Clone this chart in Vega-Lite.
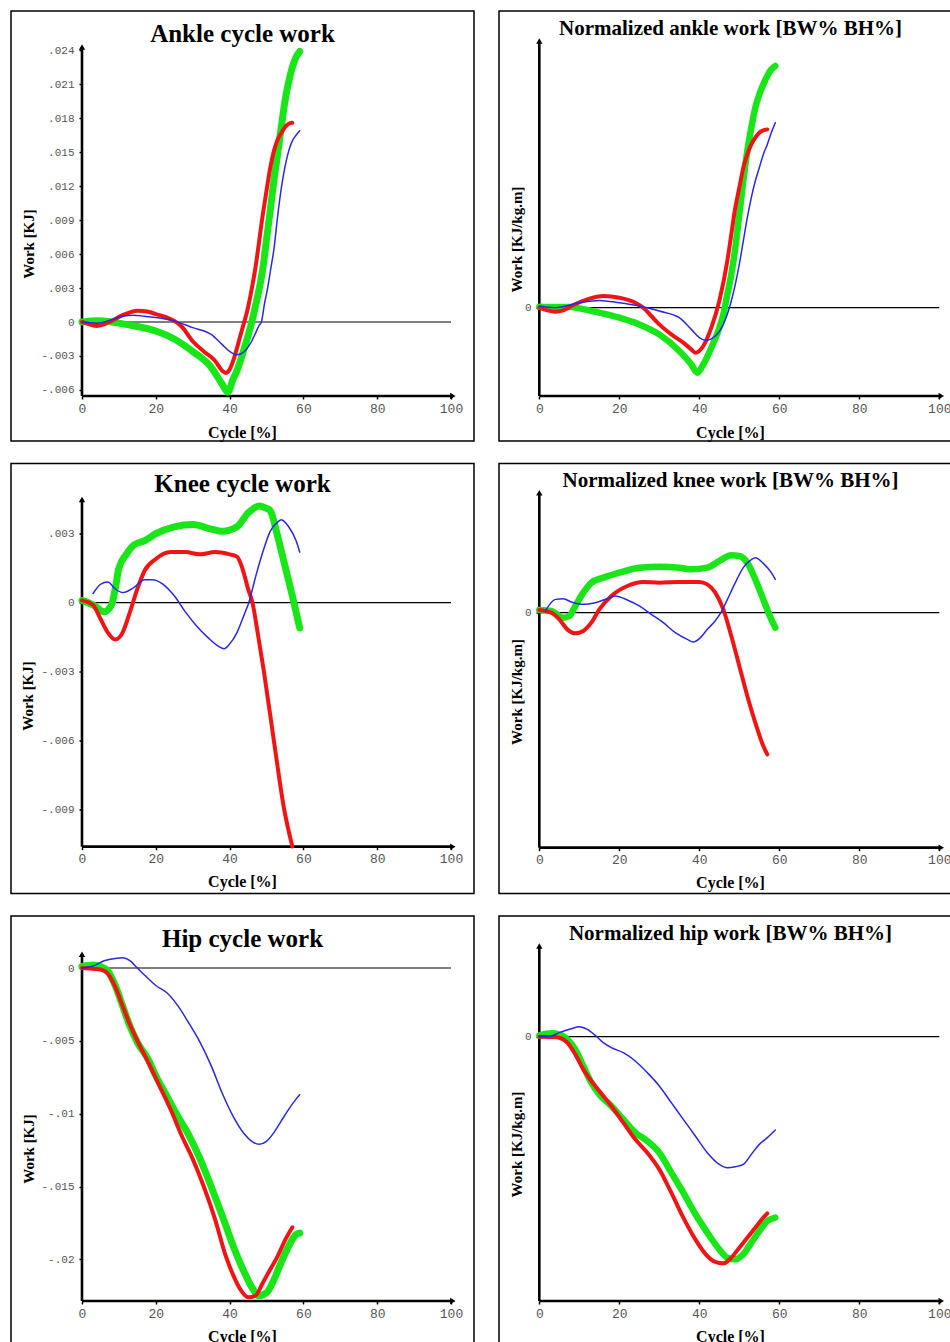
{
  "$schema": "https://vega.github.io/schema/vega-lite/v6.json",
  "padding": {"left": 10, "top": 10, "right": 0, "bottom": 0},
  "background": "white",
  "config": {
    "view": {"stroke": "black", "strokeWidth": 1.5},
    "axis": {"domain": false, "grid": false, "tickColor": "#000", "tickSize": 3, "tickWidth": 1.5, "labelFont": "Liberation Mono", "labelColor": "#555", "titleFont": "Liberation Serif", "titleFontWeight": "bold", "titleFontSize": 15, "titleColor": "#000", "titleBaseline": "middle", "titleAlign": "center", "labelFlush": false, "labelOverlap": false},
    "axisX": {"labelFontSize": 13, "titleFontSize": 16, "labelPadding": 3},
    "axisY": {"labelFontSize": 11, "labelPadding": 5},
    "title": {"font": "Liberation Serif", "fontWeight": "bold", "color": "#000", "anchor": "middle", "frame": "group", "baseline": "middle"},
    "line": {"interpolate": "monotone", "strokeCap": "round", "strokeJoin": "round"}
  },
  "datasets": {
    "guides": [
      {"p": "ankle", "kind": "zero", "x": 0, "x2": 100, "y": 0, "y2": 0},
      {"p": "ankle", "kind": "axis", "x": 0, "x2": 0, "y": -0.00654, "y2": 0.0243},
      {"p": "ankle", "kind": "axis", "x": 0, "x2": 100.5, "y": -0.00654, "y2": -0.00654},
      {"p": "ankleN", "kind": "zero", "x": 0, "x2": 100, "y": 0, "y2": 0},
      {"p": "ankleN", "kind": "axis", "x": 0, "x2": 0, "y": -0.0883, "y2": 0.2667},
      {"p": "ankleN", "kind": "axis", "x": 0, "x2": 100.5, "y": -0.0883, "y2": -0.0883},
      {"p": "knee", "kind": "zero", "x": 0, "x2": 100, "y": 0, "y2": 0},
      {"p": "knee", "kind": "axis", "x": 0, "x2": 0, "y": -0.010609, "y2": 0.00449},
      {"p": "knee", "kind": "axis", "x": 0, "x2": 100.5, "y": -0.010609, "y2": -0.010609},
      {"p": "kneeN", "kind": "zero", "x": 0, "x2": 100, "y": 0, "y2": 0},
      {"p": "kneeN", "kind": "axis", "x": 0, "x2": 0, "y": -0.235, "y2": 0.12},
      {"p": "kneeN", "kind": "axis", "x": 0, "x2": 100.5, "y": -0.235, "y2": -0.235},
      {"p": "hip", "kind": "zero", "x": 0, "x2": 100, "y": 0, "y2": 0},
      {"p": "hip", "kind": "axis", "x": 0, "x2": 0, "y": -0.02286, "y2": 0.00094},
      {"p": "hip", "kind": "axis", "x": 0, "x2": 100.5, "y": -0.02286, "y2": -0.02286},
      {"p": "hipN", "kind": "zero", "x": 0, "x2": 100, "y": 0, "y2": 0},
      {"p": "hipN", "kind": "axis", "x": 0, "x2": 0, "y": -0.26433, "y2": 0.09067},
      {"p": "hipN", "kind": "axis", "x": 0, "x2": 100.5, "y": -0.26433, "y2": -0.26433}
    ],
    "arrows": [
      {"p": "ankle", "dir": "up", "x": 0, "y": 0.0243},
      {"p": "ankle", "dir": "right", "x": 100.5, "y": -0.00654},
      {"p": "ankleN", "dir": "up", "x": 0, "y": 0.2667},
      {"p": "ankleN", "dir": "right", "x": 100.5, "y": -0.0883},
      {"p": "knee", "dir": "up", "x": 0, "y": 0.00449},
      {"p": "knee", "dir": "right", "x": 100.5, "y": -0.010609},
      {"p": "kneeN", "dir": "up", "x": 0, "y": 0.12},
      {"p": "kneeN", "dir": "right", "x": 100.5, "y": -0.235},
      {"p": "hip", "dir": "up", "x": 0, "y": 0.00094},
      {"p": "hip", "dir": "right", "x": 100.5, "y": -0.02286},
      {"p": "hipN", "dir": "up", "x": 0, "y": 0.09067},
      {"p": "hipN", "dir": "right", "x": 100.5, "y": -0.26433}
    ],
    "curves": [
      {"p":"ankle","s":"g","x":0,"y":0},{"p":"ankle","s":"g","x":4,"y":0.0001},{"p":"ankle","s":"g","x":8,"y":0},{"p":"ankle","s":"g","x":10,"y":-0.0001},{"p":"ankle","s":"g","x":15,"y":-0.0004},{"p":"ankle","s":"g","x":20,"y":-0.0008},{"p":"ankle","s":"g","x":25,"y":-0.0015},{"p":"ankle","s":"g","x":30,"y":-0.0026},{"p":"ankle","s":"g","x":35,"y":-0.004},{"p":"ankle","s":"g","x":38,"y":-0.0055},{"p":"ankle","s":"g","x":39.5,"y":-0.0062},{"p":"ankle","s":"g","x":41,"y":-0.005},{"p":"ankle","s":"g","x":42,"y":-0.0043},{"p":"ankle","s":"g","x":44,"y":-0.0023},{"p":"ankle","s":"g","x":46,"y":0},{"p":"ankle","s":"g","x":47,"y":0.0014},{"p":"ankle","s":"g","x":48,"y":0.0029},{"p":"ankle","s":"g","x":49,"y":0.0047},{"p":"ankle","s":"g","x":50,"y":0.0073},{"p":"ankle","s":"g","x":51,"y":0.0098},{"p":"ankle","s":"g","x":52,"y":0.0125},{"p":"ankle","s":"g","x":53,"y":0.0148},{"p":"ankle","s":"g","x":54,"y":0.0172},{"p":"ankle","s":"g","x":55,"y":0.0195},{"p":"ankle","s":"g","x":56,"y":0.0212},{"p":"ankle","s":"g","x":57,"y":0.0225},{"p":"ankle","s":"g","x":58,"y":0.0234},{"p":"ankle","s":"g","x":59,"y":0.0239},
      {"p":"ankle","s":"r","x":0,"y":0},{"p":"ankle","s":"r","x":2,"y":-0.0002},{"p":"ankle","s":"r","x":4,"y":-0.00035},{"p":"ankle","s":"r","x":6,"y":-0.0002},{"p":"ankle","s":"r","x":8,"y":0.0001},{"p":"ankle","s":"r","x":11,"y":0.0006},{"p":"ankle","s":"r","x":15,"y":0.001},{"p":"ankle","s":"r","x":18,"y":0.0009},{"p":"ankle","s":"r","x":20,"y":0.0007},{"p":"ankle","s":"r","x":23,"y":0.0004},{"p":"ankle","s":"r","x":25,"y":0.0001},{"p":"ankle","s":"r","x":27,"y":-0.0004},{"p":"ankle","s":"r","x":30,"y":-0.0017},{"p":"ankle","s":"r","x":33,"y":-0.0026},{"p":"ankle","s":"r","x":36,"y":-0.0034},{"p":"ankle","s":"r","x":38,"y":-0.0043},{"p":"ankle","s":"r","x":39,"y":-0.0045},{"p":"ankle","s":"r","x":40,"y":-0.0042},{"p":"ankle","s":"r","x":41,"y":-0.0034},{"p":"ankle","s":"r","x":43,"y":-0.0011},{"p":"ankle","s":"r","x":45,"y":0.0013},{"p":"ankle","s":"r","x":47,"y":0.0048},{"p":"ankle","s":"r","x":49,"y":0.0095},{"p":"ankle","s":"r","x":50,"y":0.0116},{"p":"ankle","s":"r","x":51,"y":0.0136},{"p":"ankle","s":"r","x":52,"y":0.0151},{"p":"ankle","s":"r","x":53,"y":0.0161},{"p":"ankle","s":"r","x":54,"y":0.0167},{"p":"ankle","s":"r","x":55,"y":0.0172},{"p":"ankle","s":"r","x":56,"y":0.0175},{"p":"ankle","s":"r","x":57,"y":0.0176},
      {"p":"ankle","s":"b","x":0,"y":0},{"p":"ankle","s":"b","x":4,"y":-0.0001},{"p":"ankle","s":"b","x":8,"y":0.0002},{"p":"ankle","s":"b","x":11,"y":0.0005},{"p":"ankle","s":"b","x":14,"y":0.0006},{"p":"ankle","s":"b","x":17,"y":0.0005},{"p":"ankle","s":"b","x":20,"y":0.0004},{"p":"ankle","s":"b","x":25,"y":0.0001},{"p":"ankle","s":"b","x":30,"y":-0.0005},{"p":"ankle","s":"b","x":35,"y":-0.0011},{"p":"ankle","s":"b","x":38,"y":-0.002},{"p":"ankle","s":"b","x":40,"y":-0.0026},{"p":"ankle","s":"b","x":42,"y":-0.0029},{"p":"ankle","s":"b","x":44,"y":-0.0026},{"p":"ankle","s":"b","x":46,"y":-0.0017},{"p":"ankle","s":"b","x":47,"y":-0.001},{"p":"ankle","s":"b","x":48,"y":-0.0003},{"p":"ankle","s":"b","x":48.6,"y":0},{"p":"ankle","s":"b","x":49.5,"y":0.0017},{"p":"ankle","s":"b","x":50.3,"y":0.003},{"p":"ankle","s":"b","x":51.2,"y":0.0048},{"p":"ankle","s":"b","x":52,"y":0.0064},{"p":"ankle","s":"b","x":53,"y":0.0093},{"p":"ankle","s":"b","x":54,"y":0.0118},{"p":"ankle","s":"b","x":55,"y":0.0137},{"p":"ankle","s":"b","x":56,"y":0.0151},{"p":"ankle","s":"b","x":57,"y":0.016},{"p":"ankle","s":"b","x":58,"y":0.0165},{"p":"ankle","s":"b","x":59,"y":0.0169},

      {"p":"ankleN","s":"g","x":0,"y":0.001},{"p":"ankleN","s":"g","x":4,"y":0.0007},{"p":"ankleN","s":"g","x":8,"y":0.0007},{"p":"ankleN","s":"g","x":10,"y":-0.0007},{"p":"ankleN","s":"g","x":15,"y":-0.005},{"p":"ankleN","s":"g","x":20,"y":-0.01},{"p":"ankleN","s":"g","x":25,"y":-0.0167},{"p":"ankleN","s":"g","x":30,"y":-0.0267},{"p":"ankleN","s":"g","x":35,"y":-0.0433},{"p":"ankleN","s":"g","x":38,"y":-0.0567},{"p":"ankleN","s":"g","x":39.5,"y":-0.065},{"p":"ankleN","s":"g","x":41,"y":-0.0567},{"p":"ankleN","s":"g","x":43,"y":-0.04},{"p":"ankleN","s":"g","x":45,"y":-0.02},{"p":"ankleN","s":"g","x":46,"y":-0.0067},{"p":"ankleN","s":"g","x":47,"y":0.0133},{"p":"ankleN","s":"g","x":48,"y":0.0333},{"p":"ankleN","s":"g","x":49,"y":0.06},{"p":"ankleN","s":"g","x":50,"y":0.0933},{"p":"ankleN","s":"g","x":51,"y":0.1267},{"p":"ankleN","s":"g","x":52,"y":0.1567},{"p":"ankleN","s":"g","x":53,"y":0.18},{"p":"ankleN","s":"g","x":54,"y":0.2},{"p":"ankleN","s":"g","x":55,"y":0.2133},{"p":"ankleN","s":"g","x":56,"y":0.2233},{"p":"ankleN","s":"g","x":57,"y":0.2317},{"p":"ankleN","s":"g","x":58,"y":0.2383},{"p":"ankleN","s":"g","x":59,"y":0.2417},
      {"p":"ankleN","s":"r","x":0,"y":0},{"p":"ankleN","s":"r","x":2,"y":-0.0027},{"p":"ankleN","s":"r","x":4,"y":-0.004},{"p":"ankleN","s":"r","x":6,"y":-0.0027},{"p":"ankleN","s":"r","x":8,"y":0.0017},{"p":"ankleN","s":"r","x":12,"y":0.0083},{"p":"ankleN","s":"r","x":16,"y":0.0117},{"p":"ankleN","s":"r","x":20,"y":0.01},{"p":"ankleN","s":"r","x":24,"y":0.005},{"p":"ankleN","s":"r","x":26,"y":0},{"p":"ankleN","s":"r","x":28,"y":-0.0083},{"p":"ankleN","s":"r","x":30,"y":-0.0167},{"p":"ankleN","s":"r","x":33,"y":-0.0267},{"p":"ankleN","s":"r","x":36,"y":-0.035},{"p":"ankleN","s":"r","x":38,"y":-0.0417},{"p":"ankleN","s":"r","x":39,"y":-0.045},{"p":"ankleN","s":"r","x":41,"y":-0.0383},{"p":"ankleN","s":"r","x":43,"y":-0.02},{"p":"ankleN","s":"r","x":45,"y":0.0067},{"p":"ankleN","s":"r","x":47,"y":0.0467},{"p":"ankleN","s":"r","x":48,"y":0.0733},{"p":"ankleN","s":"r","x":49,"y":0.1},{"p":"ankleN","s":"r","x":50,"y":0.12},{"p":"ankleN","s":"r","x":51,"y":0.14},{"p":"ankleN","s":"r","x":52,"y":0.1533},{"p":"ankleN","s":"r","x":53,"y":0.1633},{"p":"ankleN","s":"r","x":54,"y":0.17},{"p":"ankleN","s":"r","x":55,"y":0.175},{"p":"ankleN","s":"r","x":56,"y":0.1773},{"p":"ankleN","s":"r","x":57,"y":0.1783},
      {"p":"ankleN","s":"b","x":0,"y":0.0017},{"p":"ankleN","s":"b","x":4,"y":0},{"p":"ankleN","s":"b","x":10,"y":0.005},{"p":"ankleN","s":"b","x":15,"y":0.0073},{"p":"ankleN","s":"b","x":20,"y":0.005},{"p":"ankleN","s":"b","x":25,"y":0.0017},{"p":"ankleN","s":"b","x":30,"y":-0.0033},{"p":"ankleN","s":"b","x":35,"y":-0.01},{"p":"ankleN","s":"b","x":38,"y":-0.0217},{"p":"ankleN","s":"b","x":40,"y":-0.03},{"p":"ankleN","s":"b","x":41.5,"y":-0.0327},{"p":"ankleN","s":"b","x":44,"y":-0.0283},{"p":"ankleN","s":"b","x":46,"y":-0.0167},{"p":"ankleN","s":"b","x":48,"y":0.0067},{"p":"ankleN","s":"b","x":49,"y":0.0233},{"p":"ankleN","s":"b","x":50,"y":0.0433},{"p":"ankleN","s":"b","x":51,"y":0.0667},{"p":"ankleN","s":"b","x":52,"y":0.09},{"p":"ankleN","s":"b","x":53,"y":0.11},{"p":"ankleN","s":"b","x":54,"y":0.1267},{"p":"ankleN","s":"b","x":55,"y":0.14},{"p":"ankleN","s":"b","x":56,"y":0.1533},{"p":"ankleN","s":"b","x":57,"y":0.1633},{"p":"ankleN","s":"b","x":58,"y":0.175},{"p":"ankleN","s":"b","x":59,"y":0.185},

      {"p":"knee","s":"g","x":0,"y":0.0001},{"p":"knee","s":"g","x":3,"y":-0.0001},{"p":"knee","s":"g","x":6,"y":-0.0004},{"p":"knee","s":"g","x":8,"y":-0.0001},{"p":"knee","s":"g","x":9,"y":0.0006},{"p":"knee","s":"g","x":10,"y":0.0015},{"p":"knee","s":"g","x":12,"y":0.0021},{"p":"knee","s":"g","x":14,"y":0.0025},{"p":"knee","s":"g","x":17,"y":0.0027},{"p":"knee","s":"g","x":20,"y":0.003},{"p":"knee","s":"g","x":25,"y":0.0033},{"p":"knee","s":"g","x":30,"y":0.0034},{"p":"knee","s":"g","x":35,"y":0.0032},{"p":"knee","s":"g","x":38,"y":0.0031},{"p":"knee","s":"g","x":42,"y":0.0033},{"p":"knee","s":"g","x":45,"y":0.0039},{"p":"knee","s":"g","x":48,"y":0.0042},{"p":"knee","s":"g","x":50,"y":0.0041},{"p":"knee","s":"g","x":51,"y":0.004},{"p":"knee","s":"g","x":53,"y":0.0029},{"p":"knee","s":"g","x":55,"y":0.0016},{"p":"knee","s":"g","x":57,"y":0.0003},{"p":"knee","s":"g","x":59,"y":-0.0011},
      {"p":"knee","s":"r","x":0,"y":0.0001},{"p":"knee","s":"r","x":3,"y":-0.0001},{"p":"knee","s":"r","x":5,"y":-0.0007},{"p":"knee","s":"r","x":7,"y":-0.0013},{"p":"knee","s":"r","x":9,"y":-0.0016},{"p":"knee","s":"r","x":11,"y":-0.0013},{"p":"knee","s":"r","x":13,"y":-0.0004},{"p":"knee","s":"r","x":15,"y":0.0006},{"p":"knee","s":"r","x":17,"y":0.0014},{"p":"knee","s":"r","x":20,"y":0.0019},{"p":"knee","s":"r","x":24,"y":0.0022},{"p":"knee","s":"r","x":28,"y":0.0022},{"p":"knee","s":"r","x":32,"y":0.0021},{"p":"knee","s":"r","x":36,"y":0.0022},{"p":"knee","s":"r","x":40,"y":0.0021},{"p":"knee","s":"r","x":42,"y":0.002},{"p":"knee","s":"r","x":43,"y":0.0017},{"p":"knee","s":"r","x":44,"y":0.0012},{"p":"knee","s":"r","x":45,"y":0.0006},{"p":"knee","s":"r","x":46.2,"y":0},{"p":"knee","s":"r","x":47.5,"y":-0.0012},{"p":"knee","s":"r","x":49.3,"y":-0.003},{"p":"knee","s":"r","x":52,"y":-0.006},{"p":"knee","s":"r","x":54.8,"y":-0.009},{"p":"knee","s":"r","x":57,"y":-0.0106},
      {"p":"knee","s":"b","x":3,"y":0.0004},{"p":"knee","s":"b","x":5,"y":0.0008},{"p":"knee","s":"b","x":7,"y":0.0009},{"p":"knee","s":"b","x":9,"y":0.0006},{"p":"knee","s":"b","x":11,"y":0.00044},{"p":"knee","s":"b","x":14,"y":0.00065},{"p":"knee","s":"b","x":17,"y":0.001},{"p":"knee","s":"b","x":19,"y":0.001},{"p":"knee","s":"b","x":22,"y":0.0008},{"p":"knee","s":"b","x":25,"y":0.0003},{"p":"knee","s":"b","x":28,"y":-0.0004},{"p":"knee","s":"b","x":31,"y":-0.001},{"p":"knee","s":"b","x":34,"y":-0.0015},{"p":"knee","s":"b","x":37,"y":-0.0019},{"p":"knee","s":"b","x":38.5,"y":-0.002},{"p":"knee","s":"b","x":40,"y":-0.0018},{"p":"knee","s":"b","x":42,"y":-0.0013},{"p":"knee","s":"b","x":44,"y":-0.0005},{"p":"knee","s":"b","x":45.2,"y":0},{"p":"knee","s":"b","x":47,"y":0.0011},{"p":"knee","s":"b","x":49,"y":0.0022},{"p":"knee","s":"b","x":51,"y":0.0031},{"p":"knee","s":"b","x":53,"y":0.0035},{"p":"knee","s":"b","x":54,"y":0.0036},{"p":"knee","s":"b","x":56,"y":0.0033},{"p":"knee","s":"b","x":58,"y":0.0027},{"p":"knee","s":"b","x":59,"y":0.0022},

      {"p":"kneeN","s":"g","x":0,"y":0.0027},{"p":"kneeN","s":"g","x":3,"y":0.0017},{"p":"kneeN","s":"g","x":6,"y":-0.005},{"p":"kneeN","s":"g","x":7.5,"y":-0.0033},{"p":"kneeN","s":"g","x":9,"y":0.0067},{"p":"kneeN","s":"g","x":11,"y":0.02},{"p":"kneeN","s":"g","x":13,"y":0.03},{"p":"kneeN","s":"g","x":16,"y":0.035},{"p":"kneeN","s":"g","x":20,"y":0.04},{"p":"kneeN","s":"g","x":25,"y":0.045},{"p":"kneeN","s":"g","x":30,"y":0.046},{"p":"kneeN","s":"g","x":35,"y":0.045},{"p":"kneeN","s":"g","x":38,"y":0.0433},{"p":"kneeN","s":"g","x":42,"y":0.045},{"p":"kneeN","s":"g","x":45,"y":0.0517},{"p":"kneeN","s":"g","x":48,"y":0.0573},{"p":"kneeN","s":"g","x":50,"y":0.0567},{"p":"kneeN","s":"g","x":52,"y":0.05},{"p":"kneeN","s":"g","x":54,"y":0.0333},{"p":"kneeN","s":"g","x":56,"y":0.0133},{"p":"kneeN","s":"g","x":58,"y":-0.0067},{"p":"kneeN","s":"g","x":59,"y":-0.015},
      {"p":"kneeN","s":"r","x":0,"y":0.0027},{"p":"kneeN","s":"r","x":3,"y":0},{"p":"kneeN","s":"r","x":5,"y":-0.0067},{"p":"kneeN","s":"r","x":7,"y":-0.0167},{"p":"kneeN","s":"r","x":9,"y":-0.0207},{"p":"kneeN","s":"r","x":11,"y":-0.0183},{"p":"kneeN","s":"r","x":13,"y":-0.01},{"p":"kneeN","s":"r","x":15,"y":0.0033},{"p":"kneeN","s":"r","x":18,"y":0.0167},{"p":"kneeN","s":"r","x":22,"y":0.0267},{"p":"kneeN","s":"r","x":26,"y":0.0307},{"p":"kneeN","s":"r","x":30,"y":0.03},{"p":"kneeN","s":"r","x":35,"y":0.0307},{"p":"kneeN","s":"r","x":40,"y":0.0307},{"p":"kneeN","s":"r","x":42,"y":0.0283},{"p":"kneeN","s":"r","x":44,"y":0.02},{"p":"kneeN","s":"r","x":46,"y":0.0033},{"p":"kneeN","s":"r","x":48,"y":-0.0233},{"p":"kneeN","s":"r","x":50,"y":-0.0533},{"p":"kneeN","s":"r","x":52,"y":-0.0833},{"p":"kneeN","s":"r","x":54,"y":-0.11},{"p":"kneeN","s":"r","x":56,"y":-0.1333},{"p":"kneeN","s":"r","x":57,"y":-0.1417},
      {"p":"kneeN","s":"b","x":1.5,"y":0.0017},{"p":"kneeN","s":"b","x":4,"y":0.0133},{"p":"kneeN","s":"b","x":6,"y":0.014},{"p":"kneeN","s":"b","x":8,"y":0.0107},{"p":"kneeN","s":"b","x":11,"y":0.0083},{"p":"kneeN","s":"b","x":14,"y":0.01},{"p":"kneeN","s":"b","x":17,"y":0.014},{"p":"kneeN","s":"b","x":19,"y":0.0167},{"p":"kneeN","s":"b","x":22,"y":0.0127},{"p":"kneeN","s":"b","x":25,"y":0.0067},{"p":"kneeN","s":"b","x":28,"y":-0.0017},{"p":"kneeN","s":"b","x":31,"y":-0.01},{"p":"kneeN","s":"b","x":34,"y":-0.02},{"p":"kneeN","s":"b","x":37,"y":-0.0267},{"p":"kneeN","s":"b","x":38.5,"y":-0.0293},{"p":"kneeN","s":"b","x":40,"y":-0.026},{"p":"kneeN","s":"b","x":42,"y":-0.0167},{"p":"kneeN","s":"b","x":44,"y":-0.008},{"p":"kneeN","s":"b","x":45.4,"y":0},{"p":"kneeN","s":"b","x":47,"y":0.013},{"p":"kneeN","s":"b","x":49,"y":0.03},{"p":"kneeN","s":"b","x":51,"y":0.045},{"p":"kneeN","s":"b","x":53,"y":0.053},{"p":"kneeN","s":"b","x":54,"y":0.055},{"p":"kneeN","s":"b","x":56,"y":0.0493},{"p":"kneeN","s":"b","x":58,"y":0.04},{"p":"kneeN","s":"b","x":59,"y":0.0333},

      {"p":"hip","s":"g","x":0,"y":0.0001},{"p":"hip","s":"g","x":3,"y":0.0002},{"p":"hip","s":"g","x":5,"y":0.0001},{"p":"hip","s":"g","x":7,"y":-0.0002},{"p":"hip","s":"g","x":9,"y":-0.0012},{"p":"hip","s":"g","x":11,"y":-0.0026},{"p":"hip","s":"g","x":13,"y":-0.004},{"p":"hip","s":"g","x":15,"y":-0.0051},{"p":"hip","s":"g","x":18,"y":-0.0063},{"p":"hip","s":"g","x":20,"y":-0.0074},{"p":"hip","s":"g","x":23,"y":-0.0088},{"p":"hip","s":"g","x":26,"y":-0.0102},{"p":"hip","s":"g","x":29,"y":-0.0115},{"p":"hip","s":"g","x":32,"y":-0.0131},{"p":"hip","s":"g","x":35,"y":-0.015},{"p":"hip","s":"g","x":38,"y":-0.017},{"p":"hip","s":"g","x":41,"y":-0.0191},{"p":"hip","s":"g","x":44,"y":-0.0209},{"p":"hip","s":"g","x":46,"y":-0.0219},{"p":"hip","s":"g","x":48,"y":-0.0225},{"p":"hip","s":"g","x":50,"y":-0.0223},{"p":"hip","s":"g","x":52,"y":-0.0214},{"p":"hip","s":"g","x":54,"y":-0.0202},{"p":"hip","s":"g","x":56,"y":-0.0191},{"p":"hip","s":"g","x":58,"y":-0.0183},{"p":"hip","s":"g","x":59,"y":-0.0182},
      {"p":"hip","s":"r","x":0,"y":0},{"p":"hip","s":"r","x":3,"y":-0.00005},{"p":"hip","s":"r","x":5,"y":-0.0001},{"p":"hip","s":"r","x":7,"y":-0.0004},{"p":"hip","s":"r","x":9,"y":-0.0013},{"p":"hip","s":"r","x":11,"y":-0.0026},{"p":"hip","s":"r","x":13,"y":-0.0039},{"p":"hip","s":"r","x":15,"y":-0.005},{"p":"hip","s":"r","x":18,"y":-0.0065},{"p":"hip","s":"r","x":21,"y":-0.0081},{"p":"hip","s":"r","x":24,"y":-0.0097},{"p":"hip","s":"r","x":27,"y":-0.0115},{"p":"hip","s":"r","x":30,"y":-0.0131},{"p":"hip","s":"r","x":33,"y":-0.015},{"p":"hip","s":"r","x":36,"y":-0.0172},{"p":"hip","s":"r","x":39,"y":-0.0198},{"p":"hip","s":"r","x":41,"y":-0.0211},{"p":"hip","s":"r","x":43,"y":-0.0221},{"p":"hip","s":"r","x":45,"y":-0.0226},{"p":"hip","s":"r","x":47,"y":-0.0225},{"p":"hip","s":"r","x":49,"y":-0.0216},{"p":"hip","s":"r","x":51,"y":-0.0207},{"p":"hip","s":"r","x":53,"y":-0.0198},{"p":"hip","s":"r","x":55,"y":-0.0187},{"p":"hip","s":"r","x":57,"y":-0.0178},
      {"p":"hip","s":"b","x":0,"y":0},{"p":"hip","s":"b","x":3,"y":0.00014},{"p":"hip","s":"b","x":6,"y":0.0005},{"p":"hip","s":"b","x":9,"y":0.00066},{"p":"hip","s":"b","x":11,"y":0.0007},{"p":"hip","s":"b","x":13,"y":0.0005},{"p":"hip","s":"b","x":15,"y":0},{"p":"hip","s":"b","x":17,"y":-0.0005},{"p":"hip","s":"b","x":20,"y":-0.0012},{"p":"hip","s":"b","x":23,"y":-0.0017},{"p":"hip","s":"b","x":26,"y":-0.0026},{"p":"hip","s":"b","x":29,"y":-0.0038},{"p":"hip","s":"b","x":32,"y":-0.0051},{"p":"hip","s":"b","x":35,"y":-0.0067},{"p":"hip","s":"b","x":38,"y":-0.0086},{"p":"hip","s":"b","x":41,"y":-0.0102},{"p":"hip","s":"b","x":44,"y":-0.0114},{"p":"hip","s":"b","x":46,"y":-0.0119},{"p":"hip","s":"b","x":48,"y":-0.0121},{"p":"hip","s":"b","x":50,"y":-0.0119},{"p":"hip","s":"b","x":52,"y":-0.0113},{"p":"hip","s":"b","x":54,"y":-0.0105},{"p":"hip","s":"b","x":56,"y":-0.0097},{"p":"hip","s":"b","x":58,"y":-0.009},{"p":"hip","s":"b","x":59,"y":-0.0087},

      {"p":"hipN","s":"g","x":0,"y":0.0013},{"p":"hipN","s":"g","x":3,"y":0.0033},{"p":"hipN","s":"g","x":5,"y":0.0023},{"p":"hipN","s":"g","x":7,"y":-0.0027},{"p":"hipN","s":"g","x":9,"y":-0.0127},{"p":"hipN","s":"g","x":11,"y":-0.0293},{"p":"hipN","s":"g","x":13,"y":-0.046},{"p":"hipN","s":"g","x":15,"y":-0.0577},{"p":"hipN","s":"g","x":18,"y":-0.0693},{"p":"hipN","s":"g","x":21,"y":-0.0827},{"p":"hipN","s":"g","x":24,"y":-0.096},{"p":"hipN","s":"g","x":27,"y":-0.1043},{"p":"hipN","s":"g","x":30,"y":-0.116},{"p":"hipN","s":"g","x":33,"y":-0.136},{"p":"hipN","s":"g","x":36,"y":-0.156},{"p":"hipN","s":"g","x":39,"y":-0.1773},{"p":"hipN","s":"g","x":42,"y":-0.196},{"p":"hipN","s":"g","x":45,"y":-0.2127},{"p":"hipN","s":"g","x":47,"y":-0.221},{"p":"hipN","s":"g","x":49,"y":-0.2227},{"p":"hipN","s":"g","x":51,"y":-0.2177},{"p":"hipN","s":"g","x":53,"y":-0.206},{"p":"hipN","s":"g","x":55,"y":-0.1943},{"p":"hipN","s":"g","x":57,"y":-0.1843},{"p":"hipN","s":"g","x":59,"y":-0.181},
      {"p":"hipN","s":"r","x":0,"y":0},{"p":"hipN","s":"r","x":3,"y":-0.0003},{"p":"hipN","s":"r","x":5,"y":-0.001},{"p":"hipN","s":"r","x":7,"y":-0.006},{"p":"hipN","s":"r","x":9,"y":-0.0177},{"p":"hipN","s":"r","x":11,"y":-0.0327},{"p":"hipN","s":"r","x":13,"y":-0.0443},{"p":"hipN","s":"r","x":15,"y":-0.0543},{"p":"hipN","s":"r","x":18,"y":-0.0693},{"p":"hipN","s":"r","x":21,"y":-0.086},{"p":"hipN","s":"r","x":24,"y":-0.1027},{"p":"hipN","s":"r","x":27,"y":-0.116},{"p":"hipN","s":"r","x":30,"y":-0.1327},{"p":"hipN","s":"r","x":33,"y":-0.156},{"p":"hipN","s":"r","x":36,"y":-0.181},{"p":"hipN","s":"r","x":39,"y":-0.2027},{"p":"hipN","s":"r","x":42,"y":-0.2193},{"p":"hipN","s":"r","x":44,"y":-0.2253},{"p":"hipN","s":"r","x":46,"y":-0.2267},{"p":"hipN","s":"r","x":48,"y":-0.221},{"p":"hipN","s":"r","x":50,"y":-0.211},{"p":"hipN","s":"r","x":52,"y":-0.201},{"p":"hipN","s":"r","x":54,"y":-0.191},{"p":"hipN","s":"r","x":56,"y":-0.181},{"p":"hipN","s":"r","x":57,"y":-0.1767},
      {"p":"hipN","s":"b","x":0,"y":0},{"p":"hipN","s":"b","x":3,"y":0.0007},{"p":"hipN","s":"b","x":5,"y":0.004},{"p":"hipN","s":"b","x":8,"y":0.008},{"p":"hipN","s":"b","x":10,"y":0.01},{"p":"hipN","s":"b","x":12,"y":0.0073},{"p":"hipN","s":"b","x":14,"y":0.0013},{"p":"hipN","s":"b","x":16,"y":-0.006},{"p":"hipN","s":"b","x":18,"y":-0.011},{"p":"hipN","s":"b","x":21,"y":-0.016},{"p":"hipN","s":"b","x":24,"y":-0.0243},{"p":"hipN","s":"b","x":27,"y":-0.036},{"p":"hipN","s":"b","x":30,"y":-0.0493},{"p":"hipN","s":"b","x":33,"y":-0.066},{"p":"hipN","s":"b","x":36,"y":-0.0827},{"p":"hipN","s":"b","x":39,"y":-0.0993},{"p":"hipN","s":"b","x":42,"y":-0.116},{"p":"hipN","s":"b","x":45,"y":-0.1277},{"p":"hipN","s":"b","x":47,"y":-0.131},{"p":"hipN","s":"b","x":49,"y":-0.13},{"p":"hipN","s":"b","x":51,"y":-0.1277},{"p":"hipN","s":"b","x":53,"y":-0.1177},{"p":"hipN","s":"b","x":55,"y":-0.1077},{"p":"hipN","s":"b","x":57,"y":-0.101},{"p":"hipN","s":"b","x":59,"y":-0.0933}
    ]
  },
  "bounds": "flush",
  "columns": 2,
  "spacing": {"row": 22.5, "column": 25},
  "concat": [
      {"width": 463, "height": 430,
       "title": {"text": "Ankle cycle work", "fontSize": 25, "offset": -35.5},
       "encoding": {
         "x": {"field": "x", "type": "quantitative", "scale": {"domain": [-19.24, 106.23], "nice": false, "zero": false}, "axis": {"values": [0,20,40,60,80,100], "offset": -45, "title": "Cycle [%]", "titleX": 231, "titleY": 36}},
         "y": {"field": "y", "type": "quantitative", "scale": {"domain": [-0.010513, 0.027476], "nice": false, "zero": false}, "axis": {"values": [-0.006,-0.003,0,0.003,0.006,0.009,0.012,0.015,0.018,0.021,0.024], "offset": -71, "title": "Work [KJ]", "titleX": -54, "titleY": 232.5, "labelExpr": "datum.value == 0 ? '0' : (datum.value < 0 ? '-' : '') + replace(format(abs(datum.value), '.3~f'), '0.', '.')"}}
       },
       "layer": [
         {"data": {"name": "guides"}, "transform": [{"filter": "datum.p == 'ankle'"}], "mark": {"type": "rule", "color": "black"}, "encoding": {"x2": {"field": "x2"}, "y2": {"field": "y2"}, "strokeWidth": {"field": "kind", "type": "nominal", "scale": {"domain": ["zero", "axis"], "range": [1.2, 2.6]}, "legend": null}}},
         {"data": {"name": "arrows"}, "transform": [{"filter": "datum.p == 'ankle'"}], "mark": {"type": "point", "filled": true, "color": "black", "opacity": 1, "size": 40}, "encoding": {"shape": {"field": "dir", "type": "nominal", "scale": {"domain": ["up", "right"], "range": ["triangle-up", "triangle-right"]}, "legend": null}}},
         {"data": {"name": "curves"}, "transform": [{"filter": "datum.p == 'ankle' && datum.s == 'g'"}], "mark": {"type": "line", "color": "#19e619", "strokeWidth": 7}},
         {"data": {"name": "curves"}, "transform": [{"filter": "datum.p == 'ankle' && datum.s == 'r'"}], "mark": {"type": "line", "color": "#f01414", "strokeWidth": 4}},
         {"data": {"name": "curves"}, "transform": [{"filter": "datum.p == 'ankle' && datum.s == 'b'"}], "mark": {"type": "line", "color": "#2828e6", "strokeWidth": 1.5}}
       ]},
      {"width": 463, "height": 430,
       "title": {"text": "Normalized ankle work [BW% BH%]", "fontSize": 21, "offset": -27.5},
       "encoding": {
         "x": {"field": "x", "type": "quantitative", "scale": {"domain": [-10.08, 105.68], "nice": false, "zero": false}, "axis": {"values": [0,20,40,60,80,100], "offset": -45, "title": "Cycle [%]", "titleX": 231, "titleY": 36}},
         "y": {"field": "y", "type": "quantitative", "scale": {"domain": [-0.1333, 0.2967], "nice": false, "zero": false}, "axis": {"values": [0], "offset": -40, "title": "Work [KJ/kg.m]", "titleX": -23, "titleY": 228, "labelExpr": "'0'"}}
       },
       "layer": [
         {"data": {"name": "guides"}, "transform": [{"filter": "datum.p == 'ankleN'"}], "mark": {"type": "rule", "color": "black"}, "encoding": {"x2": {"field": "x2"}, "y2": {"field": "y2"}, "strokeWidth": {"field": "kind", "type": "nominal", "scale": {"domain": ["zero", "axis"], "range": [1.2, 2.6]}, "legend": null}}},
         {"data": {"name": "arrows"}, "transform": [{"filter": "datum.p == 'ankleN'"}], "mark": {"type": "point", "filled": true, "color": "black", "opacity": 1, "size": 40}, "encoding": {"shape": {"field": "dir", "type": "nominal", "scale": {"domain": ["up", "right"], "range": ["triangle-up", "triangle-right"]}, "legend": null}}},
         {"data": {"name": "curves"}, "transform": [{"filter": "datum.p == 'ankleN' && datum.s == 'g'"}], "mark": {"type": "line", "color": "#19e619", "strokeWidth": 6.5}},
         {"data": {"name": "curves"}, "transform": [{"filter": "datum.p == 'ankleN' && datum.s == 'r'"}], "mark": {"type": "line", "color": "#f01414", "strokeWidth": 4}},
         {"data": {"name": "curves"}, "transform": [{"filter": "datum.p == 'ankleN' && datum.s == 'b'"}], "mark": {"type": "line", "color": "#2828e6", "strokeWidth": 1.5}}
       ]},
      {"width": 463, "height": 430,
       "title": {"text": "Knee cycle work", "fontSize": 25, "offset": -33},
       "encoding": {
         "x": {"field": "x", "type": "quantitative", "scale": {"domain": [-19.24, 106.23], "nice": false, "zero": false}, "axis": {"values": [0,20,40,60,80,100], "offset": -46.8, "title": "Cycle [%]", "titleX": 231, "titleY": 35}},
         "y": {"field": "y", "type": "quantitative", "scale": {"domain": [-0.012645, 0.006051], "nice": false, "zero": false}, "axis": {"values": [-0.009,-0.006,-0.003,0,0.003], "offset": -71, "title": "Work [KJ]", "titleX": -55, "titleY": 232, "labelExpr": "datum.value == 0 ? '0' : (datum.value < 0 ? '-' : '') + replace(format(abs(datum.value), '.3~f'), '0.', '.')"}}
       },
       "layer": [
         {"data": {"name": "guides"}, "transform": [{"filter": "datum.p == 'knee'"}], "mark": {"type": "rule", "color": "black"}, "encoding": {"x2": {"field": "x2"}, "y2": {"field": "y2"}, "strokeWidth": {"field": "kind", "type": "nominal", "scale": {"domain": ["zero", "axis"], "range": [1.2, 2.6]}, "legend": null}}},
         {"data": {"name": "arrows"}, "transform": [{"filter": "datum.p == 'knee'"}], "mark": {"type": "point", "filled": true, "color": "black", "opacity": 1, "size": 40}, "encoding": {"shape": {"field": "dir", "type": "nominal", "scale": {"domain": ["up", "right"], "range": ["triangle-up", "triangle-right"]}, "legend": null}}},
         {"data": {"name": "curves"}, "transform": [{"filter": "datum.p == 'knee' && datum.s == 'g'"}], "mark": {"type": "line", "color": "#19e619", "strokeWidth": 7}},
         {"data": {"name": "curves"}, "transform": [{"filter": "datum.p == 'knee' && datum.s == 'r'"}], "mark": {"type": "line", "color": "#f01414", "strokeWidth": 4}},
         {"data": {"name": "curves"}, "transform": [{"filter": "datum.p == 'knee' && datum.s == 'b'"}], "mark": {"type": "line", "color": "#2828e6", "strokeWidth": 1.5}}
       ]},
      {"width": 463, "height": 430,
       "title": {"text": "Normalized knee work [BW% BH%]", "fontSize": 21, "offset": -27},
       "encoding": {
         "x": {"field": "x", "type": "quantitative", "scale": {"domain": [-10.08, 105.68], "nice": false, "zero": false}, "axis": {"values": [0,20,40,60,80,100], "offset": -45.8, "title": "Cycle [%]", "titleX": 231, "titleY": 35}},
         "y": {"field": "y", "type": "quantitative", "scale": {"domain": [-0.28083, 0.14917], "nice": false, "zero": false}, "axis": {"values": [0], "offset": -40, "title": "Work [KJ/kg.m]", "titleX": -23, "titleY": 228, "labelExpr": "'0'"}}
       },
       "layer": [
         {"data": {"name": "guides"}, "transform": [{"filter": "datum.p == 'kneeN'"}], "mark": {"type": "rule", "color": "black"}, "encoding": {"x2": {"field": "x2"}, "y2": {"field": "y2"}, "strokeWidth": {"field": "kind", "type": "nominal", "scale": {"domain": ["zero", "axis"], "range": [1.2, 2.6]}, "legend": null}}},
         {"data": {"name": "arrows"}, "transform": [{"filter": "datum.p == 'kneeN'"}], "mark": {"type": "point", "filled": true, "color": "black", "opacity": 1, "size": 40}, "encoding": {"shape": {"field": "dir", "type": "nominal", "scale": {"domain": ["up", "right"], "range": ["triangle-up", "triangle-right"]}, "legend": null}}},
         {"data": {"name": "curves"}, "transform": [{"filter": "datum.p == 'kneeN' && datum.s == 'g'"}], "mark": {"type": "line", "color": "#19e619", "strokeWidth": 6.5}},
         {"data": {"name": "curves"}, "transform": [{"filter": "datum.p == 'kneeN' && datum.s == 'r'"}], "mark": {"type": "line", "color": "#f01414", "strokeWidth": 4}},
         {"data": {"name": "curves"}, "transform": [{"filter": "datum.p == 'kneeN' && datum.s == 'b'"}], "mark": {"type": "line", "color": "#2828e6", "strokeWidth": 1.5}}
       ]},
      {"width": 463, "height": 430,
       "title": {"text": "Hip cycle work", "fontSize": 25, "offset": -35.5},
       "encoding": {
         "x": {"field": "x", "type": "quantitative", "scale": {"domain": [-19.24, 106.23], "nice": false, "zero": false}, "axis": {"values": [0,20,40,60,80,100], "offset": -45, "title": "Cycle [%]", "titleX": 231, "titleY": 35}},
         "y": {"field": "y", "type": "quantitative", "scale": {"domain": [-0.025949, 0.00357], "nice": false, "zero": false}, "axis": {"values": [-0.02,-0.015,-0.01,-0.005,0], "offset": -71, "title": "Work [KJ]", "titleX": -54, "titleY": 232.5, "labelExpr": "datum.value == 0 ? '0' : (datum.value < 0 ? '-' : '') + replace(format(abs(datum.value), '.3~f'), '0.', '.')"}}
       },
       "layer": [
         {"data": {"name": "guides"}, "transform": [{"filter": "datum.p == 'hip'"}], "mark": {"type": "rule", "color": "black"}, "encoding": {"x2": {"field": "x2"}, "y2": {"field": "y2"}, "strokeWidth": {"field": "kind", "type": "nominal", "scale": {"domain": ["zero", "axis"], "range": [1.2, 2.6]}, "legend": null}}},
         {"data": {"name": "arrows"}, "transform": [{"filter": "datum.p == 'hip'"}], "mark": {"type": "point", "filled": true, "color": "black", "opacity": 1, "size": 40}, "encoding": {"shape": {"field": "dir", "type": "nominal", "scale": {"domain": ["up", "right"], "range": ["triangle-up", "triangle-right"]}, "legend": null}}},
         {"data": {"name": "curves"}, "transform": [{"filter": "datum.p == 'hip' && datum.s == 'g'"}], "mark": {"type": "line", "color": "#19e619", "strokeWidth": 7}},
         {"data": {"name": "curves"}, "transform": [{"filter": "datum.p == 'hip' && datum.s == 'r'"}], "mark": {"type": "line", "color": "#f01414", "strokeWidth": 4}},
         {"data": {"name": "curves"}, "transform": [{"filter": "datum.p == 'hip' && datum.s == 'b'"}], "mark": {"type": "line", "color": "#2828e6", "strokeWidth": 1.5}}
       ]},
      {"width": 463, "height": 430,
       "title": {"text": "Normalized hip work [BW% BH%]", "fontSize": 21, "offset": -27.5},
       "encoding": {
         "x": {"field": "x", "type": "quantitative", "scale": {"domain": [-10.08, 105.68], "nice": false, "zero": false}, "axis": {"values": [0,20,40,60,80,100], "offset": -45, "title": "Cycle [%]", "titleX": 231, "titleY": 35}},
         "y": {"field": "y", "type": "quantitative", "scale": {"domain": [-0.30933, 0.12067], "nice": false, "zero": false}, "axis": {"values": [0], "offset": -40, "title": "Work [KJ/kg.m]", "titleX": -23, "titleY": 228, "labelExpr": "'0'"}}
       },
       "layer": [
         {"data": {"name": "guides"}, "transform": [{"filter": "datum.p == 'hipN'"}], "mark": {"type": "rule", "color": "black"}, "encoding": {"x2": {"field": "x2"}, "y2": {"field": "y2"}, "strokeWidth": {"field": "kind", "type": "nominal", "scale": {"domain": ["zero", "axis"], "range": [1.2, 2.6]}, "legend": null}}},
         {"data": {"name": "arrows"}, "transform": [{"filter": "datum.p == 'hipN'"}], "mark": {"type": "point", "filled": true, "color": "black", "opacity": 1, "size": 40}, "encoding": {"shape": {"field": "dir", "type": "nominal", "scale": {"domain": ["up", "right"], "range": ["triangle-up", "triangle-right"]}, "legend": null}}},
         {"data": {"name": "curves"}, "transform": [{"filter": "datum.p == 'hipN' && datum.s == 'g'"}], "mark": {"type": "line", "color": "#19e619", "strokeWidth": 6.5}},
         {"data": {"name": "curves"}, "transform": [{"filter": "datum.p == 'hipN' && datum.s == 'r'"}], "mark": {"type": "line", "color": "#f01414", "strokeWidth": 4}},
         {"data": {"name": "curves"}, "transform": [{"filter": "datum.p == 'hipN' && datum.s == 'b'"}], "mark": {"type": "line", "color": "#2828e6", "strokeWidth": 1.5}}
       ]}
  ]
}
